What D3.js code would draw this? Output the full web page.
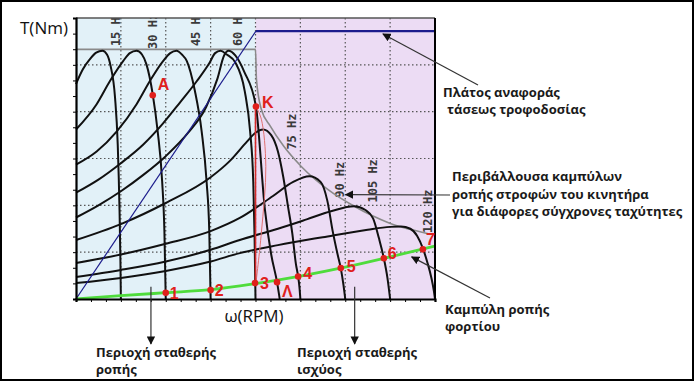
<!DOCTYPE html>
<html>
<head>
<meta charset="utf-8">
<script src="https://cdn.jsdelivr.net/npm/d3@7"></script>
<style>
  body { margin: 0; background: #fff; }
  svg { display: block; font-family: "Open Sans", sans-serif; }
</style>
</head>
<body>
<svg width="695" height="382"></svg>
<script>
// values: speed in grid units (0..8), torque in grid units (0..6)
var freqLabels = ["15 Hz", "30 Hz", "45 Hz", "60 Hz", "75 Hz", "90 Hz", "105 Hz", "120 Hz"];
var freqLabelW = [0.89, 1.71, 2.67, 3.6, 4.81, 5.88, 6.61, 7.84];
var freqLabelT = [5.4, 5.34, 5.4, 5.4, 3.19, 2.16, 2.06, 1.41];

// torque-speed curves of the motor, [speed, torque]
var curve15 = [[0, 4.59], [0.15, 4.9], [0.31, 5.12], [0.45, 5.26], [0.59, 5.3], [0.69, 5.22], [0.77, 4.98], [0.87, 4.3], [0.93, 3.3], [0.97, 1.9], [0.99, 0.8], [1.0, 0]];
var curve30 = [[0, 3.62], [0.46, 4.16], [0.76, 4.66], [1.05, 5.08], [1.2, 5.25], [1.35, 5.3], [1.47, 5.22], [1.57, 5.01], [1.71, 4.37], [1.82, 3.58], [1.92, 2.51], [1.97, 1.44], [2.0, 0]];
var curve45 = [[0, 2.87], [0.46, 3.15], [0.91, 3.58], [1.35, 4.16], [1.65, 4.66], [1.94, 5.08], [2.1, 5.25], [2.24, 5.3], [2.36, 5.22], [2.47, 5.08], [2.65, 4.44], [2.8, 3.58], [2.91, 2.51], [2.97, 1.44], [3.0, 0]];
var curve60 = [[0, 2.27], [0.5, 2.55], [1.0, 2.9], [1.5, 3.3], [1.94, 3.75], [2.32, 4.2], [2.69, 4.65], [2.98, 5.05], [3.1, 5.25], [3.22, 5.3], [3.36, 5.22], [3.55, 5.05], [3.76, 4.44], [3.88, 3.58], [3.95, 2.51], [3.98, 1.3], [4.0, 0]];
var curveK = [[0, 1.74], [0.5, 2.0], [1.0, 2.3], [1.5, 2.65], [2.0, 3.05], [2.5, 3.55], [2.9, 4.1], [3.15, 4.7], [3.3, 5.2], [3.4, 5.3], [3.55, 5.2], [3.75, 4.85], [4.01, 4.11], [4.21, 1.91], [4.35, 0.95], [4.48, 0.36], [4.54, 0]];
var curve75 = [[0, 1.26], [1, 1.6], [2, 2.05], [3, 2.6], [3.43, 2.95], [3.8, 3.35], [4.0, 3.55], [4.17, 3.62], [4.35, 3.5], [4.5, 3.15], [4.62, 2.6], [4.72, 2.0], [4.82, 1.4], [4.9, 0.75], [4.95, 0.48], [4.98, 0.25], [5.0, 0]];
var curve90 = [[0, 0.77], [1, 0.95], [2, 1.18], [3, 1.45], [3.65, 1.73], [4.39, 2.2], [4.84, 2.5], [5.2, 2.62], [5.45, 2.5], [5.6, 2.1], [5.72, 1.45], [5.83, 0.95], [5.9, 0.66], [5.96, 0.3], [6.0, 0]];
var curve105 = [[0, 0.47], [1, 0.62], [2, 0.8], [3, 1.05], [3.65, 1.26], [4.5, 1.5], [5.14, 1.7], [5.7, 1.88], [6.2, 1.98], [6.45, 1.9], [6.62, 1.72], [6.75, 1.3], [6.86, 0.87], [6.94, 0.45], [7.0, 0]];
var curve120 = [[0, 0.34], [1, 0.45], [2, 0.6], [3, 0.8], [3.65, 0.98], [4.5, 1.15], [5.5, 1.32], [6.5, 1.48], [7.0, 1.54], [7.24, 1.55], [7.45, 1.5], [7.6, 1.35], [7.73, 1.08], [7.83, 0.78], [7.92, 0.45], [7.97, 0.2], [8.0, 0]];
var motorCurves = [curve15, curve30, curve45, curve60, curveK, curve75, curve90, curve105, curve120];

// envelope of the max torque (gray), supply voltage reference (blue), load torque (green)
var envelope = [[0, 5.33], [4.0, 5.33], [4.02, 4.7], [4.13, 4.05], [4.33, 3.69], [4.63, 3.26], [5.02, 2.83], [5.61, 2.34], [6.2, 1.98], [6.99, 1.62], [7.78, 1.41], [7.9, 1.38]];
var supplyRef = [[0, 0], [4.01, 5.72], [8, 5.72]];
var loadCurve = [[0, 0], [1, 0.07], [2, 0.135], [3, 0.2], [4, 0.33], [5, 0.49], [6, 0.68], [7, 0.9], [8, 1.13]];

// transition K -> 3 (red)
var jumpLine = [[4.0, 4.11], [4.0, 0.34]];
var jumpBow = [[4.01, 4.11], [4.13, 3.84], [4.23, 2.83], [4.13, 1.41], [4.01, 0.34]];

// marked operating points
var pointNames = ["A", "K", "1", "2", "3", "Λ", "4", "5", "6", "7"];
var pointW = [1.71, 4.01, 2.0, 3.0, 3.99, 4.48, 4.95, 5.9, 6.86, 7.73];
var pointT = [4.35, 4.11, 0.135, 0.19, 0.34, 0.36, 0.48, 0.66, 0.87, 1.06];

var svg = d3.select("svg");

// outer frame
svg.append("rect")
    .attr("x", 1).attr("y", 1)
    .attr("width", 692).attr("height", 379)
    .attr("fill", "none")
    .attr("stroke", "#000")
    .attr("stroke-width", 2);

var x = d3.scaleLinear().domain([0, 8]).range([76, 435]);
var y = d3.scaleLinear().domain([0, 6]).range([299, 18]);

var defs = svg.append("defs");
defs.append("clipPath").attr("id", "plot")
    .append("rect")
    .attr("x", x(0)).attr("y", y(6))
    .attr("width", x(8) - x(0)).attr("height", y(0) - y(6));

// constant torque / constant power backgrounds
svg.append("rect")
    .attr("x", x(0)).attr("y", y(6))
    .attr("width", x(4) - x(0)).attr("height", y(0) - y(6))
    .attr("fill", "#e2f1f8");
svg.append("rect")
    .attr("x", x(4)).attr("y", y(6))
    .attr("width", x(8) - x(4)).attr("height", y(0) - y(6))
    .attr("fill", "#ecdcf4");

// dotted grid
var grid = svg.append("g")
    .attr("stroke", "#555")
    .attr("stroke-width", 1.2)
    .attr("stroke-dasharray", "1.5,2.5");
grid.selectAll(".gx").data(d3.range(1, 8)).enter().append("line")
    .attr("x1", function(d) { return x(d); })
    .attr("x2", function(d) { return x(d); })
    .attr("y1", y(6)).attr("y2", y(0));
grid.selectAll(".gy").data(d3.range(1, 6)).enter().append("line")
    .attr("x1", x(0)).attr("x2", x(8))
    .attr("y1", function(d) { return y(d); })
    .attr("y2", function(d) { return y(d); });

// frequency labels, rotated, cut at the plot frame
svg.append("g").attr("clip-path", "url(#plot)")
    .selectAll(".hz").data(freqLabels).enter().append("text")
    .attr("transform", function(d, i) {
        return "translate(" + (x(freqLabelW[i]) + 4.5) + "," + y(freqLabelT[i]) + ") rotate(-90)";
    })
    .attr("font-family", "DejaVu Sans Mono, monospace")
    .attr("font-size", 12)
    .attr("font-weight", "bold")
    .attr("fill", "#3a3a3a")
    .text(function(d) { return d; });

var line = d3.line()
    .x(function(d) { return x(d[0]); })
    .y(function(d) { return y(d[1]); });

// envelope
svg.append("path")
    .datum(envelope)
    .attr("d", line.curve(d3.curveMonotoneX))
    .attr("fill", "none")
    .attr("stroke", "#8a8a8a")
    .attr("stroke-width", 1.6);

// motor curves
svg.selectAll(".motor").data(motorCurves).enter().append("path")
    .attr("d", line.curve(d3.curveMonotoneX))
    .attr("fill", "none")
    .attr("stroke", "#111")
    .attr("stroke-width", 2);

// supply reference
svg.append("path")
    .datum(supplyRef.slice(0, 2))
    .attr("d", line.curve(d3.curveLinear))
    .attr("fill", "none")
    .attr("stroke", "#1c1c8c")
    .attr("stroke-width", 1.2);
svg.append("path")
    .datum(supplyRef.slice(1))
    .attr("d", line.curve(d3.curveLinear))
    .attr("fill", "none")
    .attr("stroke", "#1c1c8c")
    .attr("stroke-width", 2.4);

// K -> 3 jump
svg.append("path")
    .datum(jumpBow)
    .attr("d", line.curve(d3.curveCatmullRom))
    .attr("fill", "none")
    .attr("stroke", "#e07070")
    .attr("stroke-width", 1);
svg.append("path")
    .datum(jumpLine)
    .attr("d", line.curve(d3.curveLinear))
    .attr("fill", "none")
    .attr("stroke", "#d42a2a")
    .attr("stroke-width", 1.6);

// load torque
svg.append("path")
    .datum(loadCurve)
    .attr("d", line.curve(d3.curveMonotoneX))
    .attr("fill", "none")
    .attr("stroke", "#4fdc3c")
    .attr("stroke-width", 2.8);

// axes and frame of the plot
svg.append("line")
    .attr("x1", x(0)).attr("x2", x(8))
    .attr("y1", y(6)).attr("y2", y(6))
    .attr("stroke", "#555").attr("stroke-width", 1.5);
svg.append("line")
    .attr("x1", x(8)).attr("x2", x(8))
    .attr("y1", y(6)).attr("y2", y(0))
    .attr("stroke", "#000").attr("stroke-width", 2);

var xAxis = svg.append("g")
    .attr("transform", "translate(0," + y(0) + ")")
    .call(d3.axisBottom(x).tickValues(d3.range(0, 8.01, 1 / 3)).tickSize(3).tickFormat(""));
var yAxis = svg.append("g")
    .attr("transform", "translate(" + x(0) + ",0)")
    .call(d3.axisLeft(y).tickValues(d3.range(0, 6.01, 1 / 3)).tickSize(3).tickFormat(""));
[xAxis, yAxis].forEach(function(a) {
    a.select(".domain").attr("stroke", "#000").attr("stroke-width", 2.2);
    a.selectAll(".tick line").attr("stroke", "#000").attr("stroke-width", 1);
});

// operating points
var labelOffset = {
    "A": [5, -5], "K": [6, 1], "1": [4, 6], "2": [4, 6], "3": [5, 6],
    "Λ": [5, 15], "4": [5, 2], "5": [6, 4], "6": [4, 1], "7": [3, -4]
};
var pts = svg.selectAll(".pt").data(pointNames).enter().append("g");
pts.append("circle")
    .attr("cx", function(d, i) { return x(pointW[i]); })
    .attr("cy", function(d, i) { return y(pointT[i]); })
    .attr("r", 3.3)
    .attr("fill", "#e0201c");
pts.append("text")
    .attr("x", function(d, i) { return x(pointW[i]) + labelOffset[d][0]; })
    .attr("y", function(d, i) { return y(pointT[i]) + labelOffset[d][1]; })
    .attr("font-family", "Liberation Sans, Arial, sans-serif")
    .attr("font-weight", "bold")
    .attr("font-size", 16)
    .attr("fill", "#e0201c")
    .text(function(d) { return d; });

// axis titles
svg.append("text").attr("x", 20).attr("y", 34)
    .attr("font-size", 17).attr("fill", "#111").text("T(Nm)");
svg.append("text").attr("x", 254).attr("y", 322)
    .attr("text-anchor", "middle")
    .attr("font-size", 17).attr("fill", "#111").text("ω(RPM)");

// arrows and notes
defs.append("marker")
    .attr("id", "head")
    .attr("viewBox", "0 0 10 10")
    .attr("refX", 9).attr("refY", 5)
    .attr("markerWidth", 7).attr("markerHeight", 7)
    .attr("orient", "auto")
    .append("path").attr("d", "M0,0L10,5L0,10z").attr("fill", "#111");

function arrow(x1, y1, x2, y2) {
    svg.append("line")
        .attr("x1", x1).attr("y1", y1).attr("x2", x2).attr("y2", y2)
        .attr("stroke", "#333").attr("stroke-width", 1.2)
        .attr("marker-end", "url(#head)");
}
arrow(478, 85, x(6.84), y(5.66));
arrow(450, 195, x(6.01), y(2.23));
arrow(490, 298, x(7.48), y(0.9));
arrow(x(1.67), y(0.26), x(1.67), 344);
arrow(x(6.21), y(0.26), x(6.21), 344);

var notes = [
    ["Πλάτος αναφοράς", 443, 97],
    ["τάσεως τροφοδοσίας", 447, 114],
    ["Περιβάλλουσα καμπύλων", 452, 181],
    ["ροπής στροφών του κινητήρα", 452, 199],
    ["για διάφορες σύγχρονες ταχύτητες", 452, 216],
    ["Καμπύλη ροπής", 445, 314],
    ["φορτίου", 445, 331],
    ["Περιοχή σταθερής", 96, 357],
    ["ροπής", 96, 374],
    ["Περιοχή σταθερής", 297, 357],
    ["ισχύος", 297, 374]
];
svg.selectAll(".note").data(notes).enter().append("text")
    .attr("x", function(d) { return d[1]; })
    .attr("y", function(d) { return d[2]; })
    .attr("font-size", 13)
    .attr("font-weight", "bold")
    .attr("fill", "#1a1a1a")
    .text(function(d) { return d[0]; });
</script>
</body>
</html>
